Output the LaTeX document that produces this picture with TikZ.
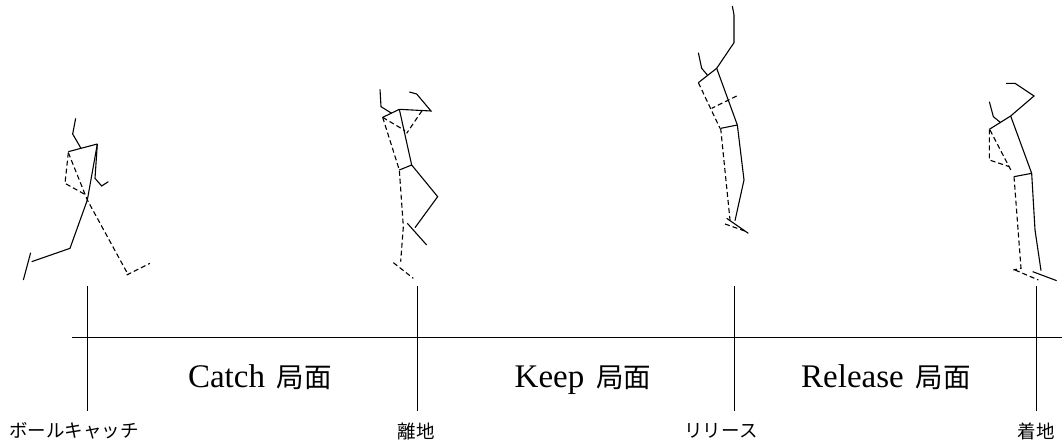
\documentclass[tikz,border=0pt]{standalone}
\usepackage{fontspec}
\setmainfont{Liberation Serif}
\newfontfamily\jp{Noto Sans CJK JP}
\newcommand\phasetext[1]{\fontsize{33}{36}\selectfont #1\hspace{12pt}{\jp\fontsize{27.5}{30}\selectfont 局面}}
\begin{document}
\begin{tikzpicture}[x=1pt,y=-1pt,
  body/.style={line width=1.1pt,line join=miter},
  hidden/.style={body,dash pattern=on 5pt off 3pt},
  axis/.style={line width=1pt},
  phase/.style={anchor=base,inner sep=0pt},
  event/.style={inner sep=0pt,font=\jp\fontsize{18.5}{20}\selectfont}]
\useasboundingbox (0,0) rectangle (1062,446);

% time axis and event ticks
\coordinate (axL) at (72,337);
\coordinate (axR) at (1062,337);
\draw[axis] (axL) -- (axR);
\foreach \n/\x in {catch/87,takeoff/417,release/734,landing/1036}{
  \coordinate (\n top) at (\x,286);
  \coordinate (\n bot) at (\x,411);
  \draw[axis] (\n top) -- (\n bot);
}

% phase names
\node[phase] (pc) at (260,387) {\phasetext{Catch}};
\node[phase] (pk) at (583,387) {\phasetext{Keep}};
\node[phase] (pr) at (886,387) {\phasetext{Release}};

% event names
\node[event] (ec) at (74,431) {ボールキャッチ};
\node[event] (et) at (416,431) {離地};
\node[event] (er) at (721,431) {リリース};
\node[event] (el) at (1036,431) {着地};

% pose at ball catch
\begin{scope}[shift={(10,100)},scale=1/3]
  \draw[body] (197,55) -- (188,102) -- (213,145);
  \draw[body] (175,155) -- (262,132);
  \draw[body] (262,132) -- (255,235) -- (275,258) -- (295,245);
  \draw[body] (262,132) -- (232,300) -- (180,445) -- (65,485);
  \draw[body] (62,458) -- (40,540);
  \draw[hidden] (175,158) -- (165,250) -- (228,285);
  \draw[hidden] (175,158) -- (232,300) -- (355,525);
  \draw[hidden] (350,525) -- (420,490);
\end{scope}

% pose at take-off
\begin{scope}[shift={(360,80)},scale=1/3]
  \draw[body] (60,28) -- (63,80) -- (95,100);
  \draw[body] (68,112) -- (118,88);
  \draw[body] (118,88) -- (213,93) -- (170,42) -- (148,36);
  \draw[body] (118,88) -- (155,255) -- (233,350) -- (165,443);
  \draw[body] (142,430) -- (200,495);
  \draw[body] (118,270) -- (155,255);
  \draw[hidden] (68,112) -- (135,152);
  \draw[hidden] (186,92) -- (140,160);
  \draw[hidden] (68,112) -- (118,270) -- (130,440) -- (122,545);
  \draw[hidden] (100,548) -- (160,595);
\end{scope}

% pose at release
\begin{scope}[shift={(680,0)},scale=1/3]
  \draw[body] (110,205) -- (162,128) -- (162,45) -- (157,18);
  \draw[body] (55,158) -- (65,205) -- (82,225);
  \draw[body] (55,248) -- (110,205);
  \draw[body] (110,205) -- (172,375) -- (192,540) -- (165,662);
  \draw[body] (140,655) -- (205,700);
  \draw[body] (122,385) -- (172,375);
  \draw[hidden] (55,248) -- (120,385);
  \draw[hidden] (170,288) -- (95,325);
  \draw[hidden] (122,385) -- (150,660);
  \draw[hidden] (135,672) -- (200,695);
\end{scope}

% pose at landing
\begin{scope}[shift={(960,70)},scale=1/3]
  \draw[body] (152,138) -- (222,78) -- (165,40) -- (138,40);
  \draw[body] (88,95) -- (100,140) -- (122,158);
  \draw[body] (88,178) -- (152,138);
  \draw[body] (152,138) -- (215,310) -- (225,480) -- (243,602);
  \draw[body] (218,605) -- (290,632);
  \draw[body] (162,320) -- (215,310);
  \draw[hidden] (88,178) -- (88,270) -- (148,290);
  \draw[hidden] (90,180) -- (155,305);
  \draw[hidden] (162,320) -- (183,595) -- (160,600);
  \draw[hidden] (165,600) -- (235,630);
\end{scope}
\end{tikzpicture}
\end{document}
